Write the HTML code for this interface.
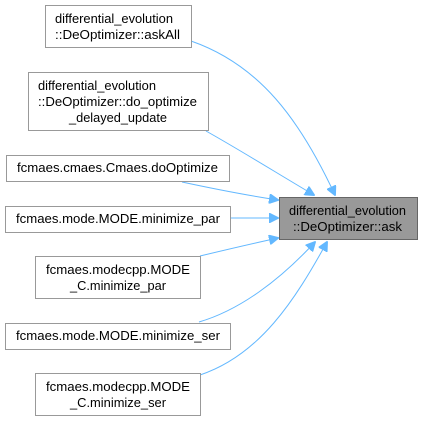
<!DOCTYPE html>
<html><head><style>
body{margin:0;background:#fff;width:423px;height:421px;overflow:hidden}
svg text{font-family:"Liberation Sans",Arial,sans-serif;font-size:13px;fill:#000}
</style></head><body>
<svg width="423" height="421" viewBox="0 0 423 421" xmlns="http://www.w3.org/2000/svg">
<defs><marker id="a" markerWidth="10" markerHeight="10" refX="9" refY="5" orient="auto" markerUnits="userSpaceOnUse"><path d="M0,0 L10,5 L0,10 z" fill="#63b8ff" stroke="#63b8ff"/></marker></defs>
<g fill="none" stroke="#63b8ff" stroke-width="1" marker-end="url(#a)">
<path d="M191,41 C260,65 300,120 335,195"/>
<path d="M206,131 C240,150 280,175 314,195"/>
<path d="M182,182 C210,188 245,195 278,200"/>
<path d="M231,218 L278,218"/>
<path d="M200,256 C225,250 255,243 278,238"/>
<path d="M199,322 C240,310 280,280 315,242"/>
<path d="M200,375 C260,355 295,300 327,242"/>
</g>
<g fill="#fff" stroke="#999" stroke-width="1">
<rect x="45.5" y="5.5" width="146" height="42"/>
<rect x="28.5" y="72.5" width="180" height="58"/>
<rect x="6.5" y="155.5" width="223" height="26"/>
<rect x="5.5" y="206.5" width="225" height="26"/>
<rect x="35.5" y="256.5" width="165" height="42"/>
<rect x="5.5" y="323.5" width="225" height="26"/>
<rect x="35.5" y="373.5" width="165" height="42"/>
<rect x="279.5" y="197.5" width="138" height="42" fill="#999" stroke="#666"/>
</g>
<g lengthAdjust="spacingAndGlyphs">
<text x="55" y="23" textLength="118" lengthAdjust="spacingAndGlyphs">differential_evolution</text>
<text x="55" y="39" textLength="125" lengthAdjust="spacingAndGlyphs">::DeOptimizer::askAll</text>
<text x="38" y="90" textLength="118" lengthAdjust="spacingAndGlyphs">differential_evolution</text>
<text x="38" y="106" textLength="159" lengthAdjust="spacingAndGlyphs">::DeOptimizer::do_optimize</text>
<text x="69" y="122" textLength="98" lengthAdjust="spacingAndGlyphs">_delayed_update</text>
<text x="17" y="172" textLength="201" lengthAdjust="spacingAndGlyphs">fcmaes.cmaes.Cmaes.doOptimize</text>
<text x="16" y="223" textLength="204" lengthAdjust="spacingAndGlyphs">fcmaes.mode.MODE.minimize_par</text>
<text x="46" y="274" textLength="144" lengthAdjust="spacingAndGlyphs">fcmaes.modecpp.MODE</text>
<text x="70" y="290" textLength="96" lengthAdjust="spacingAndGlyphs">_C.minimize_par</text>
<text x="16" y="340" textLength="204" lengthAdjust="spacingAndGlyphs">fcmaes.mode.MODE.minimize_ser</text>
<text x="46" y="391" textLength="144" lengthAdjust="spacingAndGlyphs">fcmaes.modecpp.MODE</text>
<text x="70" y="407" textLength="96" lengthAdjust="spacingAndGlyphs">_C.minimize_ser</text>
<text x="289" y="215" textLength="117" lengthAdjust="spacingAndGlyphs">differential_evolution</text>
<text x="293" y="231" textLength="109" lengthAdjust="spacingAndGlyphs">::DeOptimizer::ask</text>
</g>
</svg>
</body></html>
